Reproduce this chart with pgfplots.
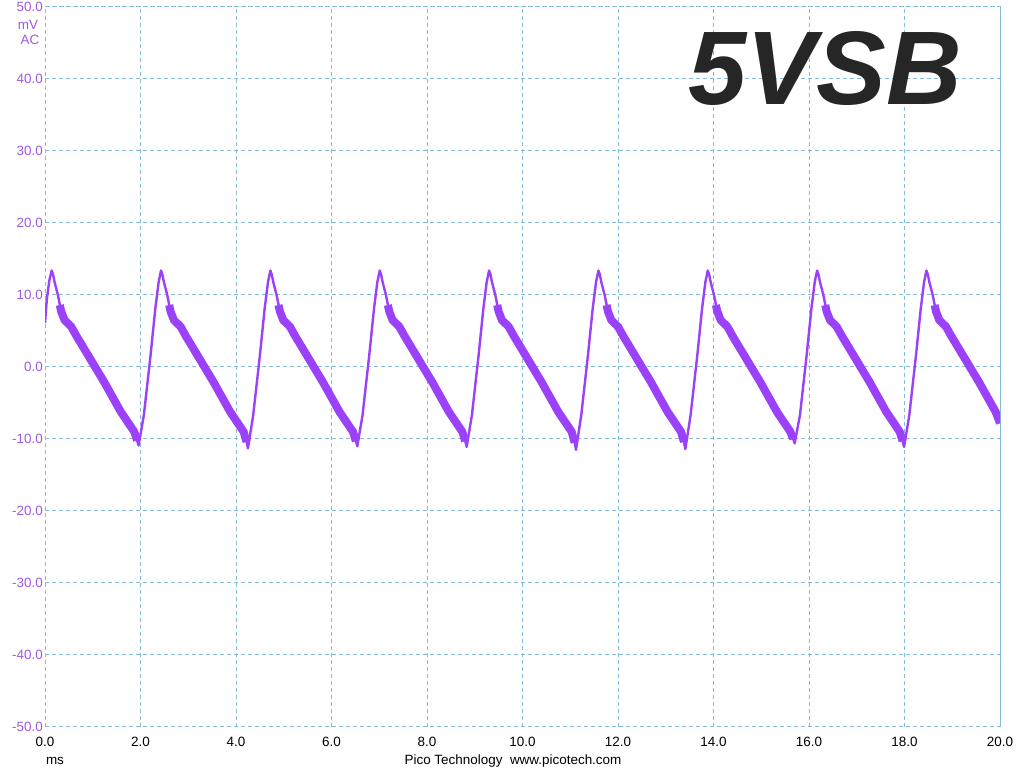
\documentclass[border=0pt]{standalone}
\usepackage{pgfplots}
\pgfplotsset{compat=1.18}
\usepackage{fontspec}
\setmainfont{Liberation Sans}
\definecolor{trace}{RGB}{155,65,250}
\definecolor{lab}{RGB}{160,90,225}
\definecolor{gridc}{RGB}{135,188,214}
\definecolor{letter}{RGB}{38,38,38}
\begin{document}
\begin{tikzpicture}[x=1bp,y=1bp]
\useasboundingbox (0,0) rectangle (1024,768);
\fill[white] (0,0) rectangle (1024,768);
\begin{axis}[
  at={(45bp,41bp)}, anchor=south west,
  scale only axis, width=955bp, height=720bp,
  xmin=0, xmax=20, ymin=-50, ymax=50,
  xtick={0,2,...,20}, ytick={-50,-40,...,50},
  major tick length=0pt,
  xmajorgrids=true, ymajorgrids=true,
  grid style={gridc, dash pattern=on 4bp off 3bp, line width=1bp},
  major grid style={gridc, dash pattern=on 4bp off 3bp, line width=1bp},
  axis line style={gridc, dash pattern=on 4bp off 3bp, line width=1bp},
  /pgf/number format/assume math mode=true,
  /pgf/number format/.cd, fixed, fixed zerofill, precision=1, /pgfplots/.cd,
  tick label style={font=\fontsize{13.5}{14}\selectfont},
  yticklabel style={text=lab, anchor=east, inner sep=0pt, xshift=-2bp},
  xticklabel style={text=black, anchor=north, inner sep=0pt, yshift=-10bp},
  unbounded coords=jump,
  clip=true,
]
% full trace (thin)
\addplot[trace, line width=2.4bp, line join=round] coordinates {
(0,6.1)(0.04,9.5)(0.09,12.0)(0.14,13.4)(0.17,12.8)(0.20,11.8)(0.27,10.0)(0.34,7.7)(0.41,6.5)(0.55,5.6)(0.65,4.4)(1.24,-2.1)(1.59,-6.25)(1.87,-9.0)(1.92,-10.0)(1.96,-10.9)
(2.07,-6.7)(2.21,1.6)(2.31,8.1)(2.38,11.8)(2.43,13.4)(2.46,12.8)(2.49,11.8)(2.56,10.0)(2.63,7.7)(2.70,6.5)(2.84,5.6)(2.94,4.4)(3.53,-2.1)(3.88,-6.25)(4.16,-9.0)(4.21,-10.0)(4.25,-11.3)
(4.36,-6.7)(4.50,1.6)(4.60,8.1)(4.67,11.8)(4.72,13.4)(4.75,12.8)(4.78,11.8)(4.85,10.0)(4.92,7.7)(4.99,6.5)(5.13,5.6)(5.23,4.4)(5.82,-2.1)(6.17,-6.25)(6.45,-9.0)(6.50,-10.0)(6.54,-11.0)
(6.65,-6.7)(6.79,1.6)(6.89,8.1)(6.96,11.8)(7.01,13.4)(7.04,12.8)(7.07,11.8)(7.14,10.0)(7.21,7.7)(7.28,6.5)(7.42,5.6)(7.52,4.4)(8.11,-2.1)(8.46,-6.25)(8.74,-9.0)(8.79,-10.0)(8.83,-11.1)
(8.94,-6.7)(9.08,1.6)(9.18,8.1)(9.25,11.8)(9.30,13.4)(9.33,12.8)(9.36,11.8)(9.43,10.0)(9.50,7.7)(9.57,6.5)(9.71,5.6)(9.81,4.4)(10.40,-2.1)(10.75,-6.25)(11.03,-9.0)(11.08,-10.0)(11.12,-11.5)
(11.23,-6.7)(11.37,1.6)(11.47,8.1)(11.54,11.8)(11.59,13.4)(11.62,12.8)(11.65,11.8)(11.72,10.0)(11.79,7.7)(11.86,6.5)(12.00,5.6)(12.10,4.4)(12.69,-2.1)(13.04,-6.25)(13.32,-9.0)(13.37,-10.0)(13.41,-11.4)
(13.52,-6.7)(13.66,1.6)(13.76,8.1)(13.83,11.8)(13.88,13.4)(13.91,12.8)(13.94,11.8)(14.01,10.0)(14.08,7.7)(14.15,6.5)(14.29,5.6)(14.39,4.4)(14.98,-2.1)(15.33,-6.25)(15.61,-9.0)(15.66,-9.8)(15.70,-10.6)
(15.81,-6.7)(15.95,1.6)(16.05,8.1)(16.12,11.8)(16.17,13.4)(16.20,12.8)(16.23,11.8)(16.30,10.0)(16.37,7.7)(16.44,6.5)(16.58,5.6)(16.68,4.4)(17.27,-2.1)(17.62,-6.25)(17.90,-9.0)(17.95,-10.0)(17.99,-11.1)
(18.10,-6.7)(18.24,1.6)(18.34,8.1)(18.41,11.8)(18.46,13.4)(18.49,12.8)(18.52,11.8)(18.59,10.0)(18.66,7.7)(18.73,6.5)(18.87,5.6)(18.97,4.4)(19.56,-2.1)(19.91,-6.25)(20.0,-7.8)
};
% noisy falling segments (thick band)
\addplot[trace, line width=8bp, line join=round, line cap=butt] coordinates {
(0.31,8.6)(0.34,7.7)(0.41,6.5)(0.55,5.6)(0.65,4.4)(1.24,-2.1)(1.59,-6.25)(1.87,-9.0)(1.93,-10.2)
(1.94,nan)
(2.60,8.6)(2.63,7.7)(2.70,6.5)(2.84,5.6)(2.94,4.4)(3.53,-2.1)(3.88,-6.25)(4.16,-9.0)(4.22,-10.4)
(4.23,nan)
(4.89,8.6)(4.92,7.7)(4.99,6.5)(5.13,5.6)(5.23,4.4)(5.82,-2.1)(6.17,-6.25)(6.45,-9.0)(6.51,-10.3)
(6.52,nan)
(7.18,8.6)(7.21,7.7)(7.28,6.5)(7.42,5.6)(7.52,4.4)(8.11,-2.1)(8.46,-6.25)(8.74,-9.0)(8.80,-10.3)
(8.81,nan)
(9.47,8.6)(9.50,7.7)(9.57,6.5)(9.71,5.6)(9.81,4.4)(10.40,-2.1)(10.75,-6.25)(11.03,-9.0)(11.09,-10.5)
(11.10,nan)
(11.76,8.6)(11.79,7.7)(11.86,6.5)(12.00,5.6)(12.10,4.4)(12.69,-2.1)(13.04,-6.25)(13.32,-9.0)(13.38,-10.4)
(13.39,nan)
(14.05,8.6)(14.08,7.7)(14.15,6.5)(14.29,5.6)(14.39,4.4)(14.98,-2.1)(15.33,-6.25)(15.61,-9.0)(15.67,-10.0)
(15.68,nan)
(16.34,8.6)(16.37,7.7)(16.44,6.5)(16.58,5.6)(16.68,4.4)(17.27,-2.1)(17.62,-6.25)(17.90,-9.0)(17.96,-10.3)
(17.97,nan)
(18.63,8.6)(18.66,7.7)(18.73,6.5)(18.87,5.6)(18.97,4.4)(19.56,-2.1)(19.91,-6.25)(20.0,-7.8)
};
\end{axis}
\node[text=lab, font=\fontsize{13.5}{14}\selectfont, inner sep=0pt] at (28,743) {mV};
\node[text=lab, font=\fontsize{13.5}{14}\selectfont, inner sep=0pt] at (30,728) {AC};
\node[font=\fontsize{13.5}{14}\selectfont, inner sep=0pt] at (55,7) {ms};
\node[font=\fontsize{13.5}{14}\selectfont, inner sep=0pt] at (513,7) {Pico Technology\ \ www.picotech.com};
\node[font=\fontsize{105}{110}\selectfont\bfseries\itshape, text=letter, inner sep=0pt] at (825,700) {5VSB};
\end{tikzpicture}
\end{document}
